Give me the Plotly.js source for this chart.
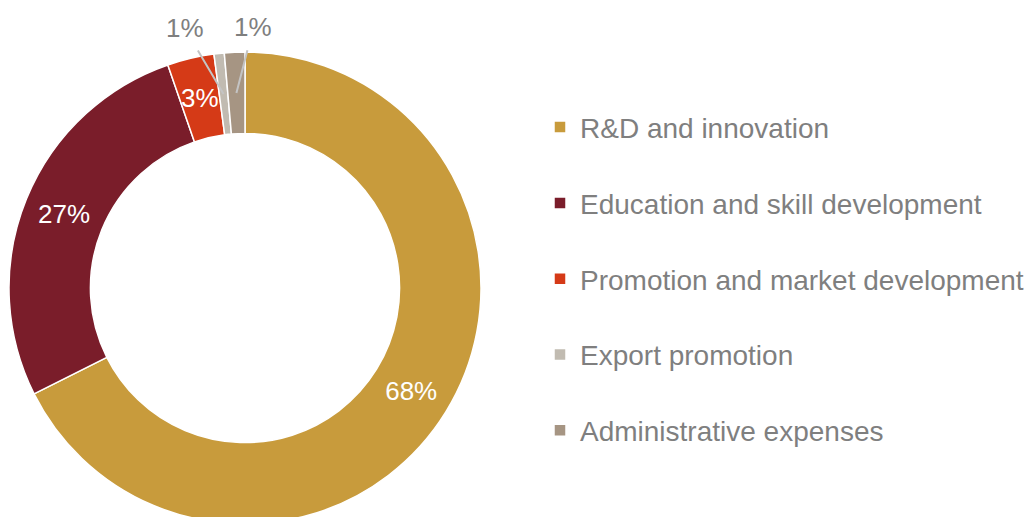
<!DOCTYPE html>
<html>
<head>
<meta charset="utf-8">
<script src="https://cdn.plot.ly/plotly-3.0.1.min.js"></script>
<style>
html,body{margin:0;padding:0;overflow:hidden;background:#fff;}
#chart{width:1029px;height:524px;}
</style>
</head>
<body>
<div id="chart"></div>
<script>
const categories = ['R&D and innovation', 'Education and skill development', 'Promotion and market development', 'Export promotion', 'Administrative expenses'];
const shares = [67.6, 27.1, 3.2, 0.7, 1.4];
const sliceColors = ['#C89B3C', '#7A1D2A', '#D53A17', '#C1BBB1', '#A69583'];
const labelPositions = ['inside', 'inside', 'none', 'none', 'none'];
// pixel offsets of the callout labels (slices labelled by annotation); no offset = label centred on the ring
const calloutOffsets = {3: [-39, -66], 4: [17, -66]};

const W = 1029, H = 524, MT = 52;
const domX = [9 / W, 481 / W];
const hole = 0.655;
const font = 'Liberation Sans, Arial, sans-serif';

const trace = {
  type: 'pie',
  labels: categories.map(c => c + '<br> '),
  values: shares,
  sort: false,
  direction: 'clockwise',
  rotation: 0,
  hole: hole,
  marker: {colors: sliceColors, line: {color: '#ffffff', width: 1.5}},
  texttemplate: '%{percent:.0%}',
  textposition: labelPositions,
  insidetextorientation: 'horizontal',
  insidetextfont: {family: font, size: 26, color: '#ffffff'},
  domain: {x: domX, y: [0, 1]},
  hoverinfo: 'label+percent'
};

// annotations for slices whose labels Plotly would not place like the reference,
// anchored at the slice's mid-angle on the ring centre line
const total = shares.reduce((a, b) => a + b, 0);
const plotH = H - MT;
const cx = W * (domX[0] + domX[1]) / 2;
const cy = MT + plotH / 2;
const R = Math.min(W * (domX[1] - domX[0]), plotH) / 2;
const rMid = R * (1 + hole) / 2;
const annotations = [];
let cum = 0;
shares.forEach((v, i) => {
  const mid = (cum + v / 2) / total * 2 * Math.PI;
  cum += v;
  if (labelPositions[i] !== 'none') return;
  const px = cx + rMid * Math.sin(mid);
  const py = cy - rMid * Math.cos(mid);
  const off = calloutOffsets[i];
  const ann = {
    xref: 'paper', yref: 'paper',
    x: px / W, y: (H - py) / plotH,
    text: Math.round(v / total * 100) + '%'
  };
  if (off) {
    Object.assign(ann, {
      showarrow: true, arrowhead: 0, arrowwidth: 2, arrowcolor: '#C4C4C4',
      startstandoff: 7, ax: off[0], ay: off[1],
      font: {family: font, size: 26, color: '#7F7F7F'}
    });
  } else {
    Object.assign(ann, {
      showarrow: false, xanchor: 'center', yanchor: 'middle',
      font: {family: font, size: 26, color: '#ffffff'}
    });
  }
  annotations.push(ann);
});

const legendTopPx = 102.4;
const layout = {
  width: W, height: H,
  margin: {l: 0, r: 0, t: MT, b: 0, autoexpand: false},
  paper_bgcolor: '#ffffff',
  showlegend: true,
  uniformtext: {mode: 'show', minsize: 26},
  annotations: annotations,
  legend: {
    x: 540 / W, xanchor: 'left',
    y: (H - legendTopPx) / plotH, yanchor: 'top',
    valign: 'top',
    font: {family: font, size: 28, color: '#7F7F7F'},
    bgcolor: 'rgba(0,0,0,0)'
  }
};

Plotly.newPlot('chart', [trace], layout, {displayModeBar: false, staticPlot: true});
</script>
</body>
</html>
